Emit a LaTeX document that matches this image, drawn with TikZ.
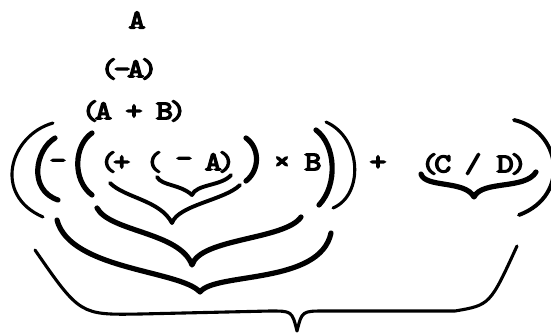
\documentclass[tikz,border=0pt]{standalone}
\usepackage{fontspec}
\newfontfamily\typew[FakeBold=5,FakeStretch=1.2,LetterSpace=-13]{lmmono10-regular.otf}
\tikzset{
  tw/.style={font=\typew\fontsize{27}{27}\selectfont, inner sep=0pt},
  ink/.style={line width=3.1pt, line cap=round, line join=round},
  medium/.style={ink, line width=3.9pt},
  heavy/.style={ink, line width=5.2pt},
}

\begin{document}
\begin{tikzpicture}[x=1pt, y=-1pt]
  \useasboundingbox (0,0) rectangle (551,333);

  % the three partial expressions
  \node[tw] (topa)  at (137,20)  {A};
  \node[tw] (nega)  at (129,69)  {(-A)};
  \node[tw] (sumab) at (134,111) {(A + B)};

  % the full expression, token by token
  \node[tw] (outneg) at (58,164)  {-};
  \node[tw] (plopen) at (115,162) {(+};
  \node[tw] (ngopen) at (154,162) {(};
  \node[tw] (ngsign) at (184,162) {-};
  \node[tw] (aclose) at (220,162) {A)};
  \node[tw] (times)  at (282,163) {×};
  \node[tw] (bvar)   at (313,162) {B};
  \node[tw] (plus)   at (378,163) {+};
  \node[tw] (copen)  at (436,164) {(C};
  \node[tw] (slash)  at (473,164) {/};
  \node[tw] (dclose) at (512,164) {D)};

  % hand drawn parentheses
  \draw[ink]    (53,123) .. controls (10,135) and (-8,195) .. (43,217);
  \draw[heavy]  (55,138) .. controls (35,150) and (28,190) .. (58,200);
  \draw[heavy]  (92,133) .. controls (74,145) and (72,180) .. (92,195);
  \draw[heavy]  (246,138) .. controls (260,148) and (260,170) .. (246,181);
  \draw[heavy]  (316,130) .. controls (336,145) and (338,185) .. (319,205);
  \draw[ink]    (326,122) .. controls (362,138) and (364,195) .. (333,208);
  \draw[medium] (514,120) .. controls (560,130) and (572,195) .. (519,215);

  % hand drawn braces
  \draw[medium] (157,177) .. controls (162,186) and (180,184) .. (192,195)
                .. controls (196,184) and (222,186) .. (231,175);
  \draw[medium] (110,183) .. controls (125,198) and (160,200) .. (172,223)
                .. controls (178,205) and (225,200) .. (240,185);
  \draw[heavy]  (97,208) .. controls (110,232) and (180,232) .. (192,265)
                .. controls (200,238) and (285,240) .. (301,217);
  \draw[heavy]  (57,220) .. controls (70,270) and (180,270) .. (200,292)
                .. controls (215,272) and (320,285) .. (331,233);
  \draw[ink]    (35,250) .. controls (80,315) .. (140,314) -- (270,311)
                .. controls (292,311) .. (297,331)
                .. controls (302,311) .. (325,311) -- (455,311)
                .. controls (490,305) .. (517,246);
  \draw[heavy]  (421,174) .. controls (425,188) and (465,180) .. (474,197)
                .. controls (482,180) and (525,190) .. (536,172);
\end{tikzpicture}
\end{document}
